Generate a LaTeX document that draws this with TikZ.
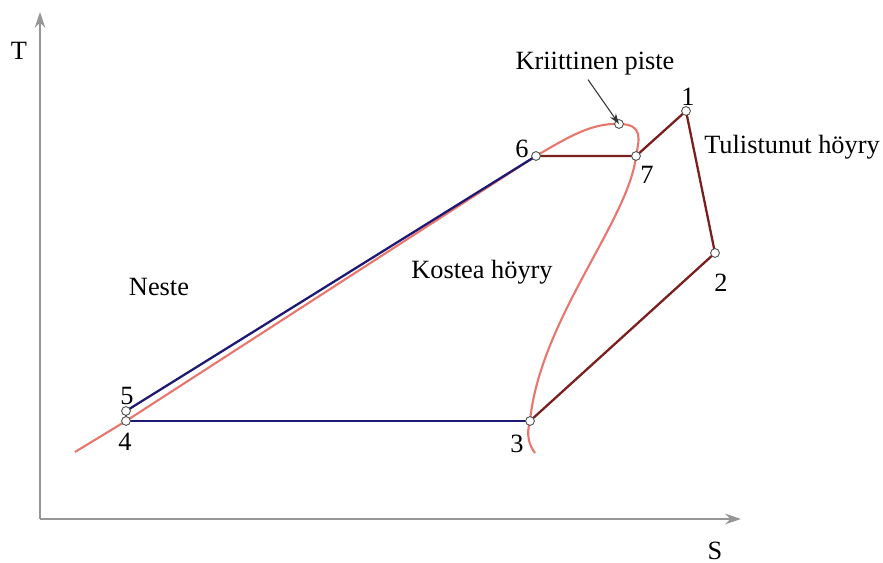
\documentclass[tikz,border=0pt]{standalone}
\usepackage{fontspec}
\setmainfont{Liberation Serif}
\usetikzlibrary{arrows.meta}
\definecolor{kayra}{RGB}{232,118,108}
\definecolor{sini}{RGB}{30,26,115}
\definecolor{puna}{RGB}{122,30,30}
\definecolor{akseli}{RGB}{150,150,150}
\tikzset{
  piste/.style={circle,draw=black!70,fill=white,inner sep=0pt,minimum size=5pt,line width=0.5pt},
  teksti/.style={font=\fontsize{15}{18}\selectfont,inner sep=1pt},
}
\begin{document}
\begin{tikzpicture}[x=0.02cm,y=-0.02cm]
            \useasboundingbox(0,0)rectangle(883,563);
            %akselit
            \coordinate(o)at(40,519);
            \coordinate(ty)at(40,12);
            \coordinate(sx)at(741,519);
            \draw[akseli,line width=1.2pt,-{Stealth[open,length=9pt,width=6pt]}](o)to(ty);
            \draw[akseli,line width=1.2pt,-{Stealth[open,length=9pt,width=6pt]}](o)to(sx);
            \node[teksti](T)at(19,51){T};
            \node[teksti](S)at(715,551){S};
            %pisteet
            \coordinate(p1)at(686,111);
            \coordinate(p2)at(715,253);
            \coordinate(p3)at(530,421);
            \coordinate(p4)at(126,421);
            \coordinate(p5)at(126,411);
            \coordinate(p6)at(536,156);
            \coordinate(p7)at(636,156);
            \coordinate(kr)at(619,124);
            \coordinate(ka)at(75,452);
            \coordinate(kb)at(535,453);
            %kylläisyyskäyrä
            \draw[kayra,line width=1.2pt](ka)--(p4)--(p6)..controls(570,136)and(592,123)..(kr)
                ..controls(644,124)and(639,140)..(p7)..controls(629,220)and(540,320)..(p3)
                ..controls(526,435)and(529,445)..(kb);
            %kierto
            \draw[sini,line width=1.3pt](p5)--(p6);
            \draw[sini,line width=1.6pt](p4)--(p3);
            \draw[sini,line width=1.3pt](p4)--(p5);
            \draw[puna,line width=1.3pt](p3)--(p2)--(p1)--(p7)--(p6);
            \foreach \p in {p1,p2,p3,p4,p5,p6,p7,kr}
              \node[piste]at(\p){};
            %tekstit
            \node[teksti](n1)at(688,97){1};
            \node[teksti](n2)at(721,283){2};
            \node[teksti](n3)at(517,444){3};
            \node[teksti](n4)at(125,442){4};
            \node[teksti](n5)at(127,396){5};
            \node[teksti](n6)at(522,149){6};
            \node[teksti](n7)at(647,175){7};
            \node[teksti](kri)at(595,64){Kriittinen piste};
            \node[teksti](tul)at(792,147){Tulistunut höyry};
            \node[teksti](nes)at(159,287){Neste};
            \node[teksti](kos)at(482,272){Kostea höyry};
            \draw[-{Stealth[length=6pt,width=4pt]},black!80,line width=0.6pt](kri.south)++(-7,2)to(kr);
\end{tikzpicture}
\end{document}
